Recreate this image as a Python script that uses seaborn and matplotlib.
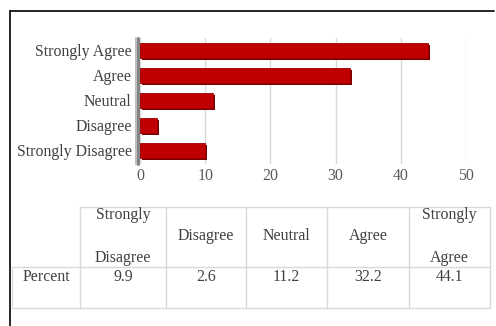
import matplotlib
matplotlib.use("Agg")
import matplotlib.pyplot as plt
import matplotlib.patheffects as pe
import seaborn as sns
import pandas as pd

categories = ["Strongly Disagree", "Disagree", "Neutral", "Agree", "Strongly Agree"]
percent = [9.9, 2.6, 11.2, 32.2, 44.1]
table_headers = ["Strongly\n\nDisagree", "Disagree", "Neutral", "Agree", "Strongly\n\nAgree"]
row_label = "Percent"
x_ticks = [0, 10, 20, 30, 40, 50]

sns.set_theme(style="white")
plt.rcParams['font.family'] = ['Liberation Serif', 'DejaVu Serif']

W, H = 496, 326
fig = plt.figure(figsize=(W / 100, H / 100), dpi=100)

def px_axes(left, top, right, bottom):
    return fig.add_axes([left / W, 1 - bottom / H, (right - left) / W, (bottom - top) / H])

# Background overlay axes in pixel coordinates (frame + table)
bg = fig.add_axes([0, 0, 1, 1])
bg.set_xlim(0, W)
bg.set_ylim(H, 0)
bg.axis("off")
bg.plot([10, 494], [11, 11], color="black", lw=1.2)
bg.plot([10, 10], [11, H], color="black", lw=1.2)

# Chart
ax = px_axes(140, 38, 466, 164)
df = pd.DataFrame({"category": categories, "percent": percent})
sns.barplot(data=df, x="percent", y="category", order=categories[::-1],
            color="#C00000", width=0.6, ax=ax, orient="h", saturation=1,
            edgecolor="#9a0000", linewidth=0.6)
for p in ax.patches:
    p.set_path_effects([pe.SimplePatchShadow(offset=(1.6, -1.6), shadow_rgbFace="#7a0000", alpha=1.0),
                        pe.Normal()])
ax.set_xlim(0, 50)
ax.set_ylim(4.55, -0.5)
ax.set_xticks(x_ticks)
ax.set_xticklabels([str(t) for t in x_ticks])
ax.grid(axis="x", color="#d9d9d9", lw=1.0)
ax.grid(axis="y", visible=False)
for s in ax.spines.values():
    s.set_visible(False)
ax.axvline(-0.25, color="#858585", lw=2.2, zorder=0.5, clip_on=False)
ax.axvline(-0.55, color="#c0c0c0", lw=1.5, zorder=0.4, clip_on=False)
ax.set_xlabel("")
ax.set_ylabel("")
fs = 11.4
ax.tick_params(axis="x", colors="#595959", labelsize=fs, pad=3, length=0)
ax.tick_params(axis="y", colors="#404040", labelsize=fs, pad=6, length=0)
for lbl in ax.get_xticklabels():
    lbl.set_color("#595959")
for lbl in ax.get_yticklabels():
    lbl.set_color("#404040")
ax.set_facecolor("none")

# Table (drawn in pixel coordinates)
col_edges = [12, 80, 166, 246, 327, 409, 490]
top, mid, bot = 207, 267, 308
lc = "#d9d9d9"
bg.plot([col_edges[1], col_edges[-1]], [top, top], color=lc, lw=1)
bg.plot([col_edges[0], col_edges[-1]], [mid, mid], color=lc, lw=1)
bg.plot([col_edges[0], col_edges[-1]], [bot, bot], color=lc, lw=1)
bg.plot([col_edges[0], col_edges[0]], [mid, bot], color=lc, lw=1)
for x in col_edges[1:]:
    bg.plot([x, x], [top, bot], color=lc, lw=1)

tc = "#404040"
for i, h in enumerate(table_headers):
    cx = (col_edges[i + 1] + col_edges[i + 2]) / 2
    bg.text(cx, (top + mid) / 2 - 0.5, h, ha="center", va="center", fontsize=fs, color=tc,
            linespacing=1.48)
bg.text((col_edges[0] + col_edges[1]) / 2, 277, row_label, ha="center", va="center",
        fontsize=fs, color=tc)
for i, v in enumerate(percent):
    cx = (col_edges[i + 1] + col_edges[i + 2]) / 2
    bg.text(cx, 277, f"{v:.1f}", ha="center", va="center", fontsize=fs, color=tc)

fig.savefig("out.png", dpi=100)
